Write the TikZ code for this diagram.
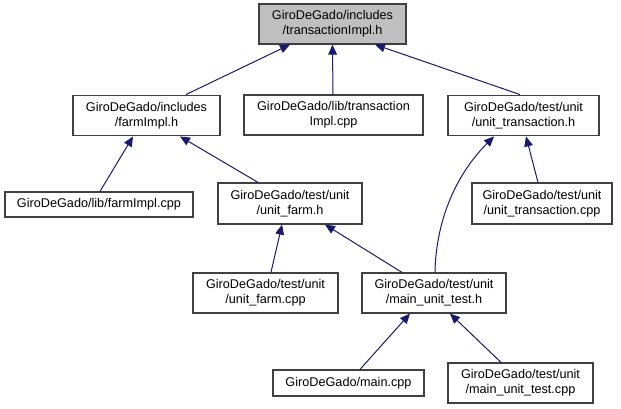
\documentclass[tikz,border=0pt]{standalone}
\usepackage{fontspec}
\setmainfont{Liberation Sans}
\usetikzlibrary{arrows.meta}
\definecolor{edgeblue}{RGB}{25,25,112}
\definecolor{boxline}{RGB}{64,64,64}
\definecolor{topfill}{RGB}{191,191,191}
\begin{document}
\begin{tikzpicture}[x=0.75pt,y=-0.75pt,
  box/.style={draw=boxline,line width=0.9pt,fill=white,inner sep=0pt,align=center,
    font=\fontsize{9.5}{11.4}\selectfont},
  edge/.style={draw=edgeblue,line width=0.75pt,-{Triangle[length=7.5pt,width=6.5pt]}}]
\useasboundingbox (0,0) rectangle (621,409);
\node[box,fill=topfill,minimum width=110.25pt,minimum height=30pt] (top) at (332.5,24) {GiroDeGado/includes\\/transactionImpl.h};
\node[box,minimum width=110.25pt,minimum height=30.5pt] (farmh) at (146.5,115.5) {GiroDeGado/includes\\/farmImpl.h};
\node[box,minimum width=134.25pt,minimum height=30pt] (transcpp) at (333.5,115) {GiroDeGado/lib/transaction\\Impl.cpp};
\node[box,minimum width=113.25pt,minimum height=30.5pt] (uth) at (523.5,115.5) {GiroDeGado/test/unit\\/unit\_transaction.h};
\node[box,minimum width=141pt,minimum height=18.75pt] (farmcpp) at (99,204.5) {GiroDeGado/lib/farmImpl.cpp};
\node[box,minimum width=108pt,minimum height=30.75pt] (ufh) at (290,203.5) {GiroDeGado/test/unit\\/unit\_farm.h};
\node[box,minimum width=105pt,minimum height=30.75pt] (utcpp) at (542,203.5) {GiroDeGado/test/unit\\/unit\_transaction.cpp};
\node[box,minimum width=108.75pt,minimum height=30pt] (ufcpp) at (265.5,293) {GiroDeGado/test/unit\\/unit\_farm.cpp};
\node[box,minimum width=108pt,minimum height=30pt] (muth) at (434,293) {GiroDeGado/test/unit\\/main\_unit\_test.h};
\node[box,minimum width=113.25pt,minimum height=19.5pt] (maincpp) at (348.5,383) {GiroDeGado/main.cpp};
\node[box,minimum width=108.75pt,minimum height=30pt] (mutcpp) at (520.5,383) {GiroDeGado/test/unit\\/main\_unit\_test.cpp};
\coordinate (cs) at ([xshift=0.75pt]muth.north);
\coordinate (ce) at ([xshift=-22.1pt]uth.south);
\draw[edge] ([xshift=29.6pt]farmh.north) -- ([xshift=-31.9pt]top.south);
\draw[edge] ([xshift=-0.4pt]transcpp.north) -- (top.south);
\draw[edge] ([xshift=-2.6pt]uth.north) -- ([xshift=31.9pt]top.south);
\draw[edge] ([xshift=0.75pt]farmcpp.north) -- ([xshift=-10.1pt]farmh.south);
\draw[edge] ([xshift=-24pt]ufh.north) -- ([xshift=25.1pt]farmh.south);
\draw[edge] ([xshift=-3pt]utcpp.north) -- ([xshift=1.9pt]uth.south);
\draw[edge] (cs) .. controls ([shift={(1,-55)}]cs) and ([shift={(-36,36)}]ce) .. (ce);
\draw[edge] ([xshift=4.1pt]ufcpp.north) -- ([xshift=-6pt]ufh.south);
\draw[edge] ([xshift=-24pt]muth.north) -- ([xshift=26.25pt]ufh.south);
\draw[edge] ([xshift=8.6pt]maincpp.north) -- ([xshift=-18pt]muth.south);
\draw[edge] ([xshift=-14.6pt]mutcpp.north) -- ([xshift=12pt]muth.south);
\end{tikzpicture}
\end{document}
